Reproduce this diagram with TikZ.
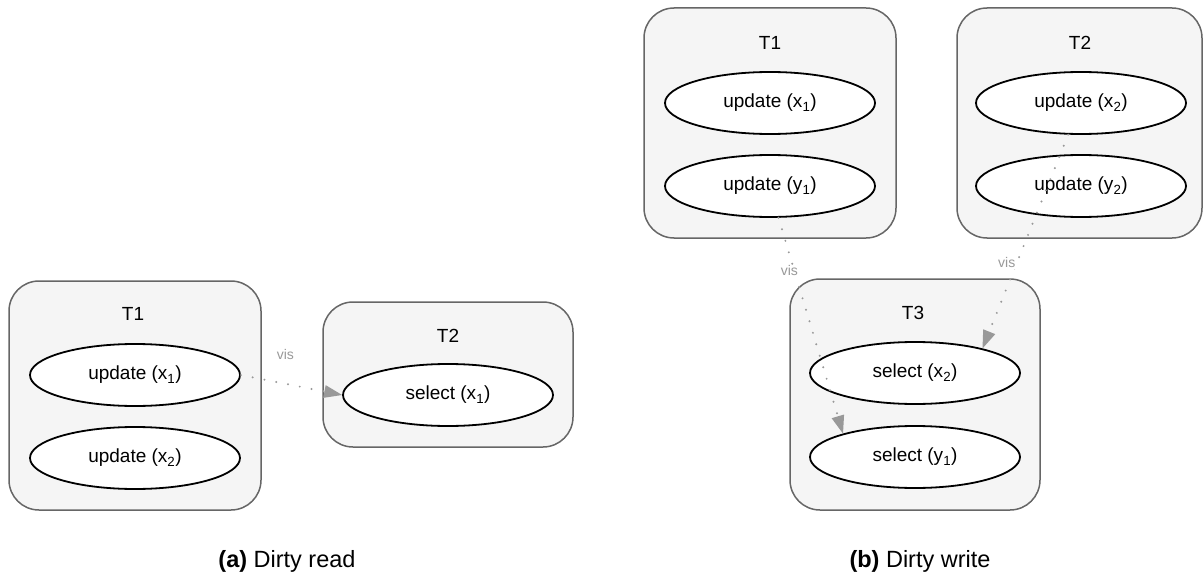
\documentclass[tikz,border=0pt]{standalone}
\usepackage{fontspec}
\setmainfont{Liberation Sans}
\usepackage{tikz}
\usetikzlibrary{arrows.meta,shapes.geometric}

\definecolor{boxfill}{HTML}{F5F5F5}
\definecolor{boxline}{HTML}{666666}
\definecolor{visgray}{HTML}{999999}

\begin{document}
\begin{tikzpicture}[x=1pt, y=-1pt,
  txbox/.style={rectangle, rounded corners=30pt, draw=boxline, fill=boxfill,
    line width=1.5pt, inner sep=0pt},
  op/.style={ellipse, draw, fill=white, line width=1.8pt, minimum width=210pt,
    minimum height=62pt, inner sep=0pt, font=\fontsize{19}{22}\selectfont},
  txtitle/.style={font=\fontsize{19}{22}\selectfont},
  vis/.style={draw=visgray, line width=2.2pt, line cap=round,
    dash pattern=on 0pt off 12pt,
    -{Triangle[length=18pt,width=13pt,line width=0pt,fill=visgray]}},
  vislabel/.style={text=visgray, font=\fontsize{14}{16}\selectfont, inner sep=1pt},
  captext/.style={font=\fontsize{23.5}{27}\selectfont}]
  \useasboundingbox (0,0) rectangle (1203,578);

  % (a) dirty read
  \node[txbox, minimum width=252pt, minimum height=229pt] (a1) at (135,395.5) {};
  \node[txbox, minimum width=250pt, minimum height=145pt] (a2) at (448,374.5) {};
  \node[txtitle] (a1t) at (133,314) {T1};
  \node[txtitle] (a2t) at (448,336) {T2};
  \node[op] (a1x) at (135,375) {update (x\textsubscript{1})};
  \node[op] (a1y) at (135,458) {update (x\textsubscript{2})};
  \node[op] (a2x) at (448,395) {select (x\textsubscript{1})};
  \draw[vis] (a1x.east) -- node[vislabel, pos=0.44, yshift=29pt] {vis} (a2x.west);

  % (b) dirty write
  \node[txbox, minimum width=252pt, minimum height=230pt] (b1) at (770,123) {};
  \node[txbox, minimum width=245pt, minimum height=230pt] (b2) at (1079.5,123) {};
  \node[txbox, minimum width=250pt, minimum height=231pt] (b3) at (915,394.5) {};
  \node[txtitle] (b1t) at (770,43) {T1};
  \node[txtitle] (b2t) at (1080,43) {T2};
  \node[txtitle] (b3t) at (913,313) {T3};
  \foreach \n/\x/\y/\t in {b1x/770/103/update (x\textsubscript{1}),
                           b1y/770/186/update (y\textsubscript{1}),
                           b2x/1081/103/update (x\textsubscript{2}),
                           b2y/1081/186/update (y\textsubscript{2}),
                           b3x/915/373/select (x\textsubscript{2}),
                           b3y/915/457/select (y\textsubscript{1})}
    \node[op] (\n) at (\x,\y) {\t};
  \draw[vis] (b1y.-75.5) -- node[vislabel, fill=white, pos=0.245, xshift=-5pt] {vis} (b3y.162);
  \draw[vis] (b2x.-112) -- node[vislabel, fill=white, pos=0.6, xshift=-10pt] {vis} (b3x.20);

  % captions
  \node[captext] (capa) at (287,561) {\textbf{(a)} Dirty read};
  \node[captext] (capb) at (920,561) {\textbf{(b)} Dirty write};
\end{tikzpicture}
\end{document}
